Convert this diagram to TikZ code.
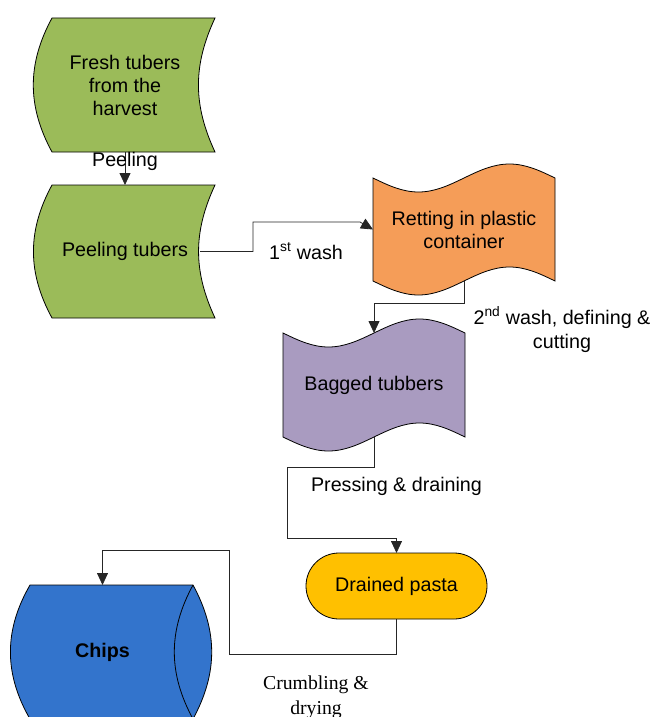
\documentclass[tikz,border=0pt]{standalone}
\usepackage{fontspec}
\setmainfont{Liberation Sans}
\newfontfamily\timesfont{Liberation Serif}
\usetikzlibrary{arrows.meta,backgrounds}

\definecolor{tubergreen}{RGB}{155,187,89}
\definecolor{rettorange}{RGB}{245,157,88}
\definecolor{bagpurple}{RGB}{169,155,192}
\definecolor{pastayellow}{RGB}{255,192,0}
\definecolor{chipsblue}{RGB}{51,116,204}

\begin{document}
\begin{tikzpicture}[x=1pt, y=1pt,
  every node/.style={font=\fontsize{19.7}{23}\selectfont, align=center, inner sep=0pt, outer sep=0pt},
  outline/.style={draw=black, line width=0.8pt},
  link/.style={draw=black!85, line width=0.8pt, -{Triangle[length=12pt,width=11pt]}}]
  \useasboundingbox (0,0) rectangle (653,-717);
  \clip (0,0) rectangle (653,-717);
  % boxes of the flow
  \node[minimum width=180pt, minimum height=134pt] (fresh) at (125,-85) {Fresh tubers\\from the\\harvest};
  \node[minimum width=180pt, minimum height=133pt] (peel) at (125,-251.5) {Peeling tubers};
  \node[minimum width=182pt, minimum height=103pt] (ret) at (464,-229.5) {Retting in plastic\\container};
  \node[minimum width=182pt, minimum height=104pt] (bag) at (374,-385) {Bagged tubbers};
  \node[outline, fill=pastayellow, rounded corners=33pt, minimum width=181pt, minimum height=66pt] (pasta) at (396.5,-586) {Drained pasta};
  \node[minimum width=181pt, minimum height=134pt, font=\fontsize{19.7}{23}\selectfont\bfseries] (chips) at (102.5,-652) {Chips};
  \begin{scope}[on background layer]
    \filldraw[outline, fill=tubergreen] ([xshift=17pt]fresh.north west) -- (fresh.north east)
      to[bend right=25] (fresh.south east) -- ([xshift=17pt]fresh.south west)
      to[bend left=28.5] ([xshift=17pt]fresh.north west) -- cycle;
    \filldraw[outline, fill=tubergreen] ([xshift=17pt]peel.north west) -- (peel.north east)
      to[bend right=25] (peel.south east) -- ([xshift=17pt]peel.south west)
      to[bend left=28.5] ([xshift=17pt]peel.north west) -- cycle;
    \filldraw[outline, fill=rettorange] (ret.north west) sin ++(45.5,-14) cos ++(45.5,14) sin ++(45.5,14) cos ++(45.5,-14)
      -- (ret.south east) sin ++(-45.5,14) cos ++(-45.5,-14) sin ++(-45.5,-14) cos ++(-45.5,14) -- cycle;
    \filldraw[outline, fill=bagpurple] (bag.north west) sin ++(45.5,-14) cos ++(45.5,14) sin ++(45.5,14) cos ++(45.5,-14)
      -- (bag.south east) sin ++(-45.5,14) cos ++(-45.5,-14) sin ++(-45.5,-14) cos ++(-45.5,14) -- cycle;
    \filldraw[outline, fill=chipsblue] ([xshift=18pt]chips.north west) -- (chips.north east)
      to[bend left=28.5] (chips.south east) -- ([xshift=18pt]chips.south west)
      to[bend left=30] ([xshift=18pt]chips.north west) -- cycle;
    \draw[outline] (chips.north east) to[bend right=28.5] (chips.south east);
  \end{scope}
  % bends of the connectors
  \coordinate (wash-bend) at (253,-222);
  \coordinate (press-bend) at (287,-538);
  \coordinate (crumb-bend) at (229,-550);
  \draw[link] (fresh.south) -- (peel.north);
  \draw[link] ([xshift=-15pt]peel.east) -| (wash-bend) -- ([shift={(-13pt,7.5pt)}]ret.west) -- (ret.west);
  \draw[link] (ret.south) -- ++(0,-22) -| (bag.north);
  \draw[link] (bag.south) |- ++(-87,-30) -- (press-bend) -| (pasta.north);
  \draw[link] (pasta.south) -- ++(0,-35) -| (crumb-bend) -| (chips.north);
  % step labels
  \node (peel-tag) at (125,-161) {Peeling};
  \node (wash1-tag) at (306,-251) {1\textsuperscript{st} wash};
  \node[font=\fontsize{19.7}{24.5}\selectfont] (wash2-tag) at (562,-330) {2\textsuperscript{nd} wash, defining \&\\cutting};
  \node (press-tag) at (396.5,-486) {Pressing \& draining};
  \node[font=\fontsize{19.7}{25}\selectfont\timesfont] (crumb-tag) at (316,-697) {Crumbling \&\\drying};
\end{tikzpicture}
\end{document}
